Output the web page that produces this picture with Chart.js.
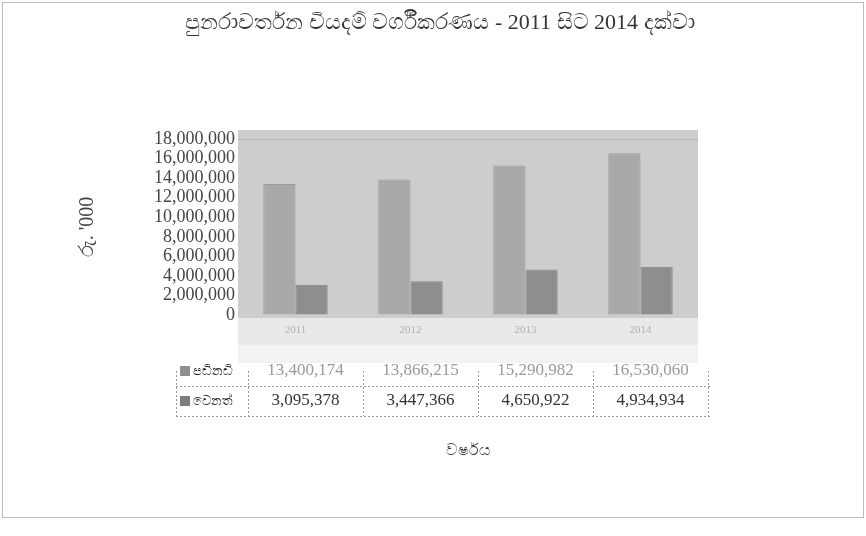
<!DOCTYPE html>
<html>
<head>
<meta charset="utf-8">
<script src="https://cdn.jsdelivr.net/npm/chart.js@4.4.1/dist/chart.umd.min.js"></script>
<style>
  html, body { margin: 0; padding: 0; background: #fff; }
  #wrap { position: relative; width: 866px; height: 536px; }
  #wrap::after { content: ""; position: absolute; left: 2px; top: 2px; width: 860px; height: 514px; border: 1px solid #bdbdbd; pointer-events: none; }
  canvas { display: block; }
</style>
</head>
<body>
<div id="wrap"><canvas id="c" width="866" height="536"></canvas></div>
<script>
const titleText = "පුනරාවර්තන වියදම් වර්ගීකරණය - 2011 සිට 2014 දක්වා";
const yTitle = "රු. '000";
const xTitle = "වර්ෂය";
const years = ["2011", "2012", "2013", "2014"];
const seriesNames = ["පඩිනඩි", "වෙනත්"];
const salaries = [13400174, 13866215, 15290982, 16530060];
const other = [3095378, 3447366, 4650922, 4934934];
const yTicks = [0, 2000000, 4000000, 6000000, 8000000, 10000000, 12000000, 14000000, 16000000, 18000000];

const serif = "'Liberation Serif', 'DejaVu Serif', serif";
const fmt = v => v.toLocaleString('en-US');

const titlePlugin = {
  id: 'pageTitle',
  afterDraw(chart) {
    const { ctx, width } = chart;
    ctx.save();
    ctx.font = "22px " + serif;
    ctx.fillStyle = '#333';
    ctx.textAlign = 'center';
    ctx.textBaseline = 'middle';
    ctx.fillText(titleText, width / 2 + 7, 23);
    ctx.restore();
  }
};

const bgPlugin = {
  id: 'bg',
  beforeDraw(chart) {
    const { ctx, chartArea: a } = chart;
    ctx.save();
    ctx.fillStyle = '#cdcdcd';
    ctx.fillRect(a.left, a.top - 9, a.right - a.left, a.bottom - a.top + 12);
    ctx.fillStyle = '#e9e9e9';
    ctx.fillRect(a.left, a.bottom + 3, a.right - a.left, 27);
    ctx.fillStyle = '#f3f3f3';
    ctx.fillRect(a.left, a.bottom + 30, a.right - a.left, 18);
    ctx.restore();
  }
};

const tablePlugin = {
  id: 'table',
  afterDraw(chart) {
    const { ctx, chartArea: a, scales } = chart;
    const xs = scales.x;
    const n = years.length;
    const colW = (a.right - a.left) / n;
    const top = xs.top;
    const rowY = [top + 56, top + 86];
    const rowTop = top + 42;
    const rowMid = top + 71;
    const rowBot = top + 101;
    const firstLeft = a.left - 62;
    ctx.save();
    ctx.strokeStyle = '#9a9a9a';
    ctx.lineWidth = 1;
    ctx.setLineDash([2, 2]);
    [rowMid, rowBot].forEach(y => {
      ctx.beginPath(); ctx.moveTo(firstLeft, y + 0.5); ctx.lineTo(a.right + 14, y + 0.5); ctx.stroke();
    });
    for (let i = 0; i <= n; i++) {
      const x = Math.round(a.left + i * colW + 10) + 0.5;
      ctx.beginPath(); ctx.moveTo(x, rowTop + 14); ctx.lineTo(x, rowBot); ctx.stroke();
    }
    ctx.beginPath(); ctx.moveTo(firstLeft + 0.5, rowTop + 14); ctx.lineTo(firstLeft + 0.5, rowBot); ctx.stroke();
    ctx.setLineDash([]);
    const cols = ['#8f8f8f', '#7d7d7d'];
    seriesNames.forEach((s, r) => {
      ctx.fillStyle = cols[r];
      ctx.fillRect(firstLeft + 4, rowY[r] - 5, 10, 10);
      ctx.fillStyle = '#2a2a2a';
      ctx.font = "13px 'Noto Sans', sans-serif";
      ctx.textAlign = 'left';
      ctx.textBaseline = 'middle';
      ctx.fillText(s, firstLeft + 17, rowY[r]);
    });
    ctx.font = "17px " + serif;
    ctx.textAlign = 'center';
    ctx.textBaseline = 'middle';
    [salaries, other].forEach((arr, r) => {
      arr.forEach((v, i) => {
        const x = xs.getPixelForTick(i) + 10;
        ctx.fillStyle = r === 0 ? '#9a9a9a' : '#333';
        ctx.fillText(fmt(v), x, rowY[r]);
      });
    });
    ctx.restore();
  }
};

new Chart(document.getElementById('c'), {
  type: 'bar',
  data: {
    labels: years,
    datasets: [
      { label: seriesNames[0], data: salaries, backgroundColor: '#a9a9a9', borderColor: '#999', borderWidth: 1, barPercentage: 1, categoryPercentage: 0.56 },
      { label: seriesNames[1], data: other, backgroundColor: '#8e8e8e', borderColor: '#858585', borderWidth: 1, barPercentage: 1, categoryPercentage: 0.56 }
    ]
  },
  options: {
    responsive: false,
    animation: false,
    layout: { padding: { left: 76, right: 168, top: 139, bottom: 76 } },
    plugins: {
      legend: { display: false },
      tooltip: { enabled: false },
      title: { display: false }
    },
    scales: {
      x: {
        grid: { display: false, drawTicks: false },
        border: { display: false },
        ticks: { color: '#b0b0b0', font: { family: serif, size: 11 }, padding: 9 },
        title: { display: true, text: xTitle, color: '#333', font: { family: "'Noto Sans', sans-serif", size: 16 }, padding: { top: 0, bottom: 0 } },
        afterFit(s) { s.height = 145; }
      },
      y: {
        min: 0, max: 18000000,
        afterBuildTicks(s) { s.ticks = yTicks.map(v => ({ value: v })); },
        grid: { color: ctx => ctx.tick && ctx.tick.value === 18000000 ? '#b5b5b5' : 'rgba(0,0,0,0)', drawTicks: false },
        border: { display: false },
        ticks: { color: '#444', font: { family: serif, size: 18 }, padding: 3, autoSkip: false, callback: v => fmt(v) },
        title: { display: true, text: yTitle, color: '#444', font: { family: serif, size: 20 }, padding: 0 },
        afterFit(s) { s.width = 162; }
      }
    }
  },
  plugins: [bgPlugin, tablePlugin, titlePlugin]
});
</script>
</body>
</html>
